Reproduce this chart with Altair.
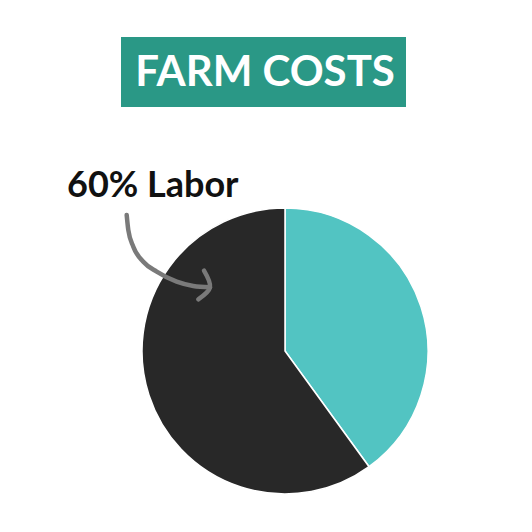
import altair as alt
import pandas as pd

# pie data
categories = ["Other", "Labor"]
shares = [40, 60]
colors = ["#52C4C2", "#282828"]

title_text = "FARM COSTS"
note_text = "60% Labor"

# arrow path for the annotation (canvas pixels)
arrow_x = [118.7, 120.3, 125.3, 135.3, 148.7, 168.7, 185.3, 202]
arrow_y = [207, 222, 238.7, 253.7, 263.7, 273.7, 278, 279.3]
head_x = [196, 202, 190.3]
head_y = [262.7, 279.3, 291.3]

W, H = 516, 516

pie_df = pd.DataFrame({"category": categories, "share": shares, "rank": [0, 1]})
arrow_df = pd.DataFrame({"x": arrow_x, "y": arrow_y, "i": range(len(arrow_x))})
head_df = pd.DataFrame({"x": head_x, "y": head_y, "i": [0, 1, 2]})

pie = (
    alt.Chart(pie_df)
    .mark_arc(outerRadius=143, stroke="white", strokeWidth=1.5)
    .encode(
        theta=alt.Theta("share:Q", stack=True),
        order=alt.Order("rank:Q"),
        color=alt.Color(
            "category:N",
            scale=alt.Scale(domain=categories, range=colors),
            legend=None,
        ),
        x=alt.value(277),
        y=alt.value(343),
    )
)

xs = alt.X("x:Q", scale=alt.Scale(domain=[0, W], nice=False, zero=False), axis=None)
ys = alt.Y("y:Q", scale=alt.Scale(domain=[H, 0], nice=False, zero=False), axis=None)

arrow = (
    alt.Chart(arrow_df)
    .mark_line(interpolate="monotone", color="#7A7A7A", strokeWidth=4.5, strokeCap="round")
    .encode(x=xs, y=ys, order="i:Q")
)
head = (
    alt.Chart(head_df)
    .mark_line(color="#7A7A7A", strokeWidth=4.5, strokeCap="round", strokeJoin="round",
               interpolate="cardinal")
    .encode(x=xs, y=ys, order="i:Q")
)

box = (
    alt.Chart(pd.DataFrame({"t": [title_text]}))
    .mark_rect(color="#2A9886")
    .encode(x=alt.value(113), x2=alt.value(398), y=alt.value(29), y2=alt.value(99))
)
title = (
    alt.Chart(pd.DataFrame({"t": [title_text]}))
    .mark_text(font="Lato", fontSize=42, fontWeight="bold", color="white",
               align="center", baseline="alphabetic")
    .encode(text="t:N", x=alt.value(257), y=alt.value(78))
)
note = (
    alt.Chart(pd.DataFrame({"t": [note_text]}))
    .mark_text(font="Lato", fontSize=36, fontWeight="bold", color="#111111",
               align="left", baseline="alphabetic")
    .encode(text="t:N", x=alt.value(59), y=alt.value(189))
)

chart = (
    alt.layer(pie, arrow, head, box, title, note)
    .properties(width=W, height=H, padding=0, autosize="none")
    .configure_view(stroke=None)
)

chart.save("out.html", embed_options={"renderer": "svg", "actions": False})
